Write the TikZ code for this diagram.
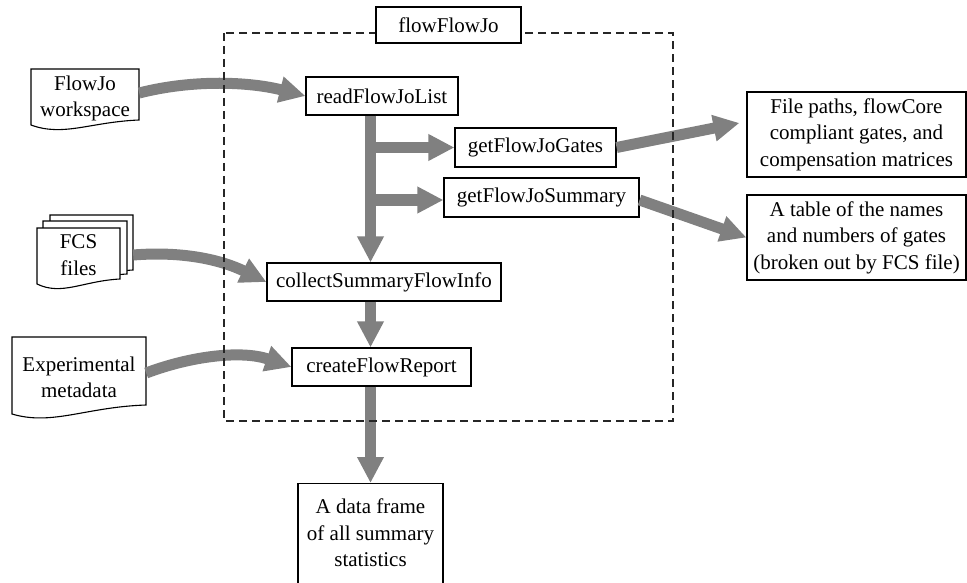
\documentclass[tikz,border=0pt]{standalone}
\usepackage{fontspec}
\setmainfont{Liberation Serif}
\usetikzlibrary{arrows.meta,calc}
\definecolor{arrgray}{RGB}{128,128,128}
\newcommand\docshp[5]{\draw[docshape] (#1,#3) -- (#2,#3) -- (#2,#5) .. controls +({-0.45*(#2-#1)},2) and +({0.3*(#2-#1)},12) .. (#1,#4) -- cycle;}
\begin{document}
\begin{tikzpicture}[x=1pt,y=-1pt,
  txt/.style={font=\fontsize{21pt}{26.5pt}\selectfont, align=center},
  box/.style={txt, draw=black, line width=1.1pt, fill=white, inner sep=2pt},
  doctext/.style={txt, inner sep=0pt},
  docshape/.style={draw=black, line width=1.1pt, fill=white},
  arr/.style={draw=arrgray, line width=11pt, -{Triangle[length=26pt,width=25pt]}},
  dashbox/.style={draw=black!85, line width=1.2pt, dash pattern=on 8pt off 5pt}]
\clip (0,0) rectangle (967,583);
\fill[white] (0,0) rectangle (967,583);

% documents
\docshp{31}{139}{69}{125}{120}
\node[doctext, minimum width=108pt] (fj) at (85,98.5) {FlowJo\\workspace};
\docshp{50}{133}{215}{275}{270}
\docshp{43}{127}{221}{279}{274}
\docshp{37}{120}{228}{284}{279}
\node[doctext, minimum width=83pt] (fcs) at (78.5,255) {FCS\\files};
\docshp{12}{146}{337}{414}{405}
\node[doctext, minimum width=134pt] (exp) at (79,377.5) {Experimental\\metadata};

% function boxes
\node[box, minimum width=152pt, minimum height=38pt] (read) at (382,96) {readFlowJoList};
\node[box, minimum width=161pt, minimum height=39pt] (gates) at (535.5,147.5) {getFlowJoGates};
\node[box, minimum width=195pt, minimum height=39pt] (summ) at (541.5,197.5) {getFlowJoSummary};
\node[box, minimum width=234pt, minimum height=38pt] (collect) at (384,282) {collectSummaryFlowInfo};
\node[box, minimum width=179pt, minimum height=38pt] (report) at (381.5,367) {createFlowReport};

% outputs
\node[box, minimum width=219pt, minimum height=85pt] (r1) at (856.5,134.5) {File paths, flowCore\\compliant gates, and\\compensation matrices};
\node[box, minimum width=219pt, minimum height=85pt] (r2) at (856.5,237.5) {A table of the names\\and numbers of gates\\(broken out by FCS file)};
\node[draw=black, line width=1.1pt, fill=white, minimum width=145pt, minimum height=116pt, anchor=north] (out) at (370.5,483) {};
\node[doctext] (outtxt) at (370.5,533) {A data frame\\of all summary\\statistics};

% arrows
\draw[arr] ([yshift=5.5pt]fj.east) .. controls +(55,-14) and +(-55,-14) .. (read.west);
\draw[arr] ([xshift=13pt]fcs.east) .. controls +(50,-4) and +(-45,-22) .. (collect.west);
\draw[arr] ([yshift=4.5pt]exp.east) .. controls +(45,-17) and +(-50,-17) .. (report.west);
\draw[arr] (read.south -| out.north) -- (collect.north -| out.north);
\draw[arr] (gates.west -| out.north) -- (gates.west);
\draw[arr] ([yshift=-2.5pt]summ.west -| out.north) -- ([yshift=-2.5pt]summ.west);
\draw[arr] (collect.south -| out.north) -- (report.north -| out.north);
\draw[arr] (report.south -| out.north) -- (out.north);
\draw[arr] (gates.east) -- ([xshift=-7pt,yshift=11.5pt]r1.west);
\draw[arr] ([yshift=-2.5pt]summ.east) -- (r2.west);

% package frame
\draw[dashbox] (224,33) rectangle (673,421);
\node[box, minimum width=145pt, minimum height=36pt] (title) at (448.5,25) {flowFlowJo};
\end{tikzpicture}
\end{document}
